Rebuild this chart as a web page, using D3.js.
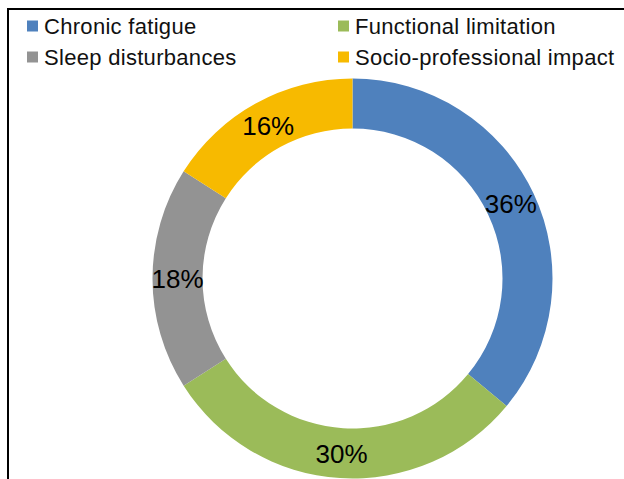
<!DOCTYPE html>
<html>
<head>
<meta charset="utf-8">
<script src="https://cdn.jsdelivr.net/npm/d3@7"></script>
<style>
  html, body { margin: 0; padding: 0; background: #fff; }
  svg { display: block; }
</style>
</head>
<body>
<svg id="chart" width="624" height="479"></svg>
<script>
const categories = ["Chronic fatigue", "Functional limitation", "Sleep disturbances", "Socio-professional impact"];
const values = [36, 30, 18, 16];
const colors = ["#4F81BD", "#9BBB59", "#939393", "#F7BA00"];

const W = 624, H = 479;
const svg = d3.select("#chart");
const font = "'Liberation Sans', Arial, sans-serif";

// frame (top and left edges visible)
svg.append("path")
  .attr("d", `M8,${H} L8,9 L${W},9`)
  .attr("fill", "none")
  .attr("stroke", "#000")
  .attr("stroke-width", 2);

// legend
const legend = svg.append("g");
const colX = [27, 338];
const rowY = [26, 57];
categories.forEach((c, i) => {
  const col = i % 2, row = Math.floor(i / 2);
  const g = legend.append("g").attr("transform", `translate(${colX[col]},${rowY[row]})`);
  g.append("rect").attr("x", 0).attr("y", -5.5).attr("width", 11).attr("height", 11).attr("fill", colors[i]);
  g.append("text").attr("x", 17).attr("y", 8)
    .attr("font-family", font).attr("font-size", 22).attr("letter-spacing", 0.3).attr("fill", "#111")
    .text(c);
});

// donut
const cx = 352.5, cy = 278.5, rOuter = 200, rInner = 150;
const pie = d3.pie().sort(null).value(d => d);
const arc = d3.arc().innerRadius(rInner).outerRadius(rOuter);
const color = d3.scaleOrdinal().domain(categories).range(colors);
const total = d3.sum(values);

const g = svg.append("g").attr("transform", `translate(${cx},${cy})`);
const arcs = pie(values);
g.selectAll("path.slice").data(arcs).enter().append("path")
  .attr("class", "slice")
  .attr("d", arc)
  .attr("fill", (d, i) => color(categories[i]));

g.selectAll("text.lbl").data(arcs).enter().append("text")
  .attr("class", "lbl")
  .attr("transform", d => `translate(${arc.centroid(d)})`)
  .attr("text-anchor", "middle")
  .attr("dy", "0.36em")
  .attr("font-family", font).attr("font-size", 26).attr("fill", "#000")
  .text(d => Math.round(d.value / total * 100) + "%");
</script>
</body>
</html>
